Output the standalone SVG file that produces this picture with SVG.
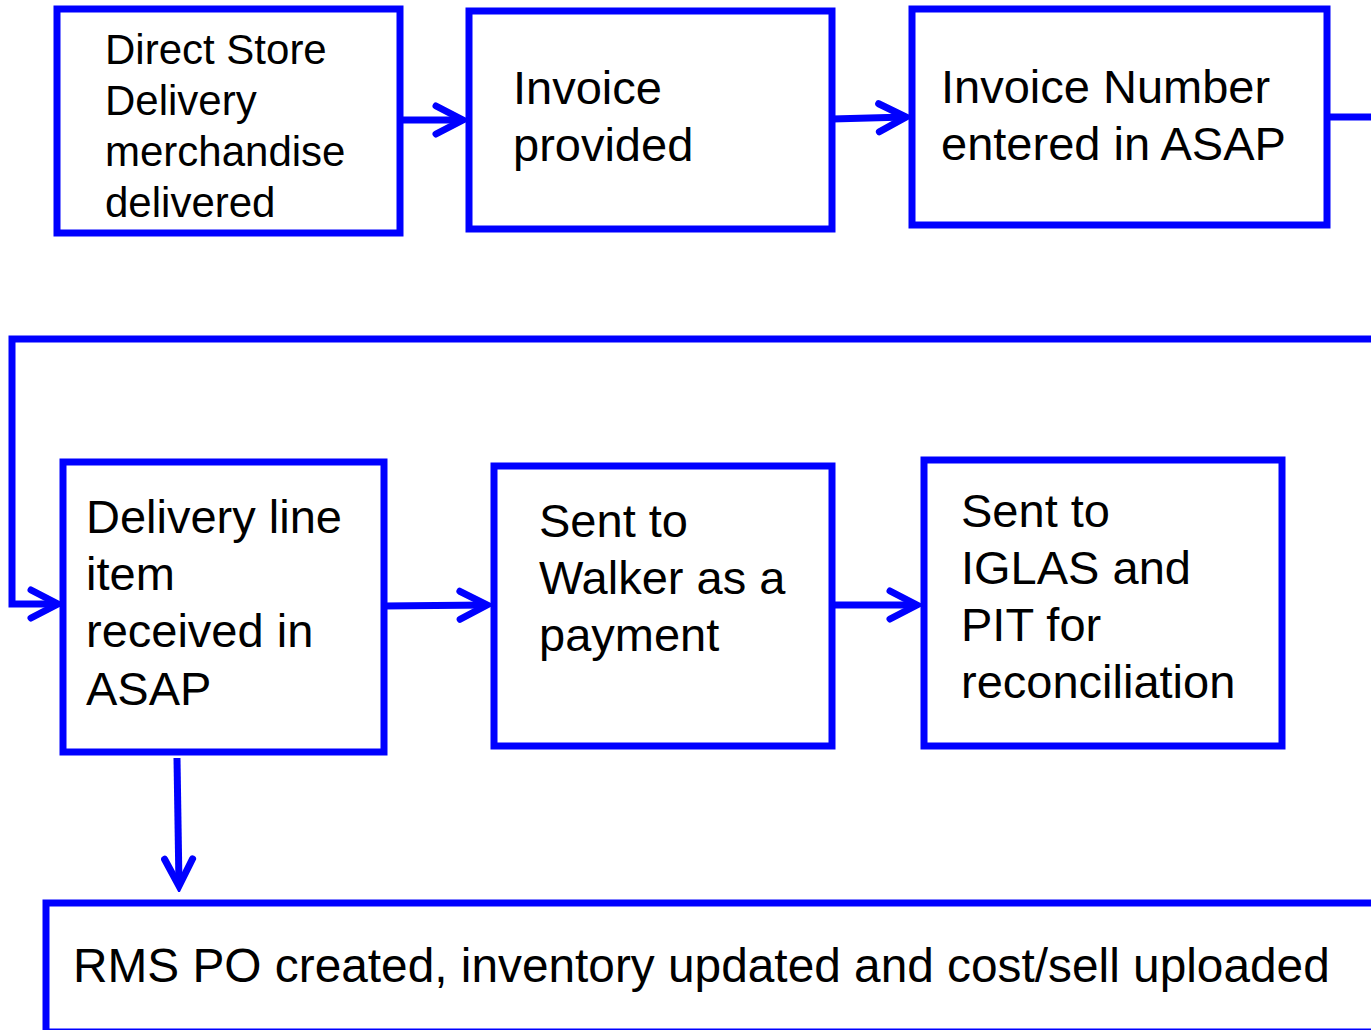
<svg xmlns="http://www.w3.org/2000/svg" width="1371" height="1030" viewBox="0 0 1371 1030">
<style>
.box{fill:#fff;stroke:#0000ff;stroke-width:7}
.c{fill:none;stroke:#0000ff;stroke-width:7;stroke-linejoin:miter}
.t{font-family:"Liberation Sans",Arial,sans-serif;font-size:47px;fill:#000}
.t1{font-family:"Liberation Sans",Arial,sans-serif;font-size:42px;fill:#000}
</style>
<defs>
<marker id="ah" markerUnits="userSpaceOnUse" markerWidth="40" markerHeight="40" viewBox="-34 -20 40 40" refX="0" refY="0" orient="auto">
<path d="M-27,-14 L0,0 L-27,14" fill="none" stroke="#0000ff" stroke-width="7" stroke-linecap="round" stroke-linejoin="miter"/>
</marker>
</defs>
<rect width="1371" height="1030" fill="#fff"/>
<g id="connectors">
<line class="c" x1="400" y1="120" x2="463" y2="120" marker-end="url(#ah)"/>
<line class="c" x1="832" y1="119" x2="906" y2="117" marker-end="url(#ah)"/>
<line class="c" x1="1327" y1="117" x2="1380" y2="117"/>
<polyline class="c" points="1380,339 12,339 12,604 58,604" marker-end="url(#ah)"/>
<line class="c" x1="384" y1="606" x2="487" y2="605" marker-end="url(#ah)"/>
<line class="c" x1="832" y1="605" x2="917" y2="605" marker-end="url(#ah)"/>
<line class="c" x1="177" y1="758" x2="179" y2="886" marker-end="url(#ah)"/>
</g>
<g id="n1">
<rect class="box" x="57" y="9" width="343" height="224"/>
<text class="t1"><tspan x="105" y="64">Direct Store</tspan><tspan x="105" y="115">Delivery</tspan><tspan x="105" y="166">merchandise</tspan><tspan x="105" y="217">delivered</tspan></text>
</g>
<g id="n2">
<rect class="box" x="469" y="11" width="363" height="218"/>
<text class="t"><tspan x="513" y="104">Invoice</tspan><tspan x="513" y="161">provided</tspan></text>
</g>
<g id="n3">
<rect class="box" x="912" y="9" width="415" height="216"/>
<text class="t"><tspan x="941" y="103">Invoice Number</tspan><tspan x="941" y="160">entered in ASAP</tspan></text>
</g>
<g id="n4">
<rect class="box" x="63" y="462" width="321" height="290"/>
<text class="t"><tspan x="86" y="533">Delivery line</tspan><tspan x="86" y="590">item</tspan><tspan x="86" y="647">received in</tspan><tspan x="86" y="705">ASAP</tspan></text>
</g>
<g id="n5">
<rect class="box" x="494" y="466" width="338" height="280"/>
<text class="t"><tspan x="539" y="537">Sent to</tspan><tspan x="539" y="594">Walker as a</tspan><tspan x="539" y="651">payment</tspan></text>
</g>
<g id="n6">
<rect class="box" x="924" y="460" width="358" height="286"/>
<text class="t"><tspan x="961" y="527">Sent to</tspan><tspan x="961" y="584">IGLAS and</tspan><tspan x="961" y="641">PIT for</tspan><tspan x="961" y="698">reconciliation</tspan></text>
</g>
<g id="n7">
<rect class="box" x="46" y="903" width="1340" height="129"/>
<text class="t" style="font-size:47.8px" x="73" y="982">RMS PO created, inventory updated and cost/sell uploaded</text>
</g>
</svg>
